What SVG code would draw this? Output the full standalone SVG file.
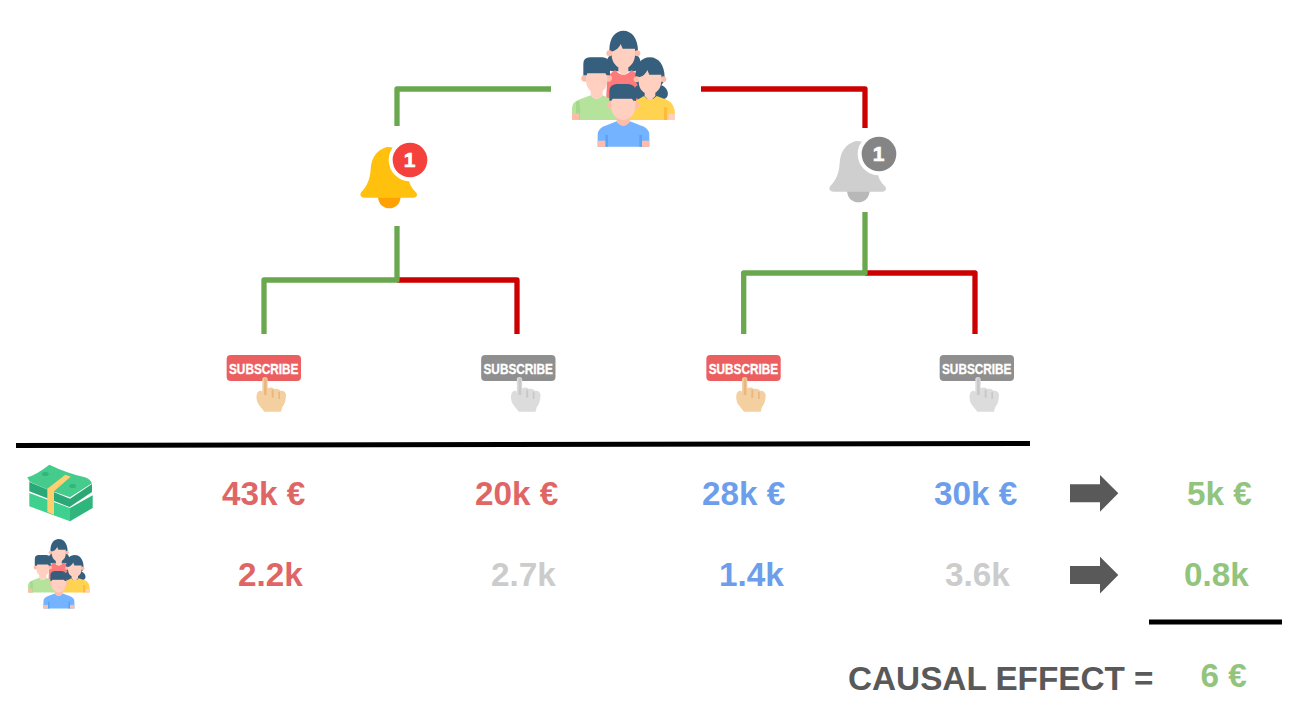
<svg xmlns="http://www.w3.org/2000/svg" xmlns:xlink="http://www.w3.org/1999/xlink" width="1300" height="716" viewBox="0 0 1300 716">
<style>
.lbl{font-family:"Liberation Sans",Arial,sans-serif;font-weight:700;font-size:33.3px}
.r{fill:#e06666}.b{fill:#6d9eeb}.g{fill:#cccccc}.v{fill:#93c47d}.d{fill:#595959}
.con{fill:none;stroke-width:5.3;stroke-linejoin:round}.gc{stroke:#6aa84f}.rc{stroke:#cc0000}
.sub{font-family:"Liberation Sans",Arial,sans-serif;font-weight:700;font-size:14.5px;fill:#fff;stroke:#fff;stroke-width:.35}
.one{font-family:"Liberation Sans",Arial,sans-serif;font-weight:700;fill:#fff;font-size:21px;text-anchor:middle;stroke:#fff;stroke-width:.6}
.col{--btn:#ec5f60;--hand:#f4cfa0;--hand2:#e8b884}
.mono{--btn:#8f8f8f;--hand:#dcdcdc;--hand2:#c8c8c8}
.by{--bell:#ffc10d;--clap:#ffa100;--badge:#f5413b}
.bg{--bell:#cfcfcf;--clap:#b8b8b8;--badge:#858585}
.hair{fill:#365f7d}.skin{fill:#ffcfc0}.skin2{fill:#ffbca8}
</style>
<defs>
<g id="people">
<path class="hair" d="M148,92C148,50 168,32 190,32C215,32 234,55 234,92L234,108C248,122 242,154 220,154L160,154C138,154 132,125 148,108Z"/>
<path fill="#ff7a7a" d="M142,168L165,150Q190,178 215,150L238,168L242,250L138,250Z"/>
<circle class="skin2" cx="148" cy="100" r="9"/><circle class="skin2" cx="232" cy="100" r="9"/>
<path class="skin" d="M155,95C165,92 176,86 182,72L188,86L225,86L225,105C225,125 212,138 205,142L205,152Q190,178 175,152L175,142C168,138 155,125 155,105Z"/>
<path class="hair" d="M226,172C226,130 245,112 270,112C295,112 314,135 314,172C314,185 308,190 304,196C328,204 332,238 306,238L240,238C212,234 216,204 234,196C230,190 226,185 226,172Z"/>
<path fill="#ffd24f" d="M206,300L222,245L252,228Q270,250 290,228L322,240Q345,250 345,285L345,300Z"/>
<path fill="#ffb93d" d="M312,262H321V300H312Z"/>
<path class="skin" d="M325,282H345V300H325Z"/>
<circle class="skin2" cx="230" cy="178" r="9"/><circle class="skin2" cx="310" cy="178" r="9"/>
<path class="skin" d="M236,172C246,170 256,164 262,150L268,164L304,164L304,182C304,204 292,214 286,218L286,228Q270,250 254,228L254,218C246,214 236,204 236,182Z"/>
<path fill="#b5e39c" d="M36,300V265Q36,246 60,238L92,226Q110,248 128,226L158,240L176,300Z"/>
<path fill="#a2d88a" d="M58,242Q62,270 60,300H48V246Z"/>
<path class="skin2" d="M36,281H58V300H36Z"/>
<path class="skin" d="M92,205H128V226Q110,248 92,226Z"/>
<circle class="skin2" cx="74" cy="175" r="10"/><circle class="skin2" cx="146" cy="175" r="10"/>
<path class="skin" d="M78,155H142V182C142,206 124,220 110,220C96,220 78,206 78,182Z"/>
<path class="hair" d="M70,166V132Q70,112 90,112H128Q150,114 150,140V166H140L136,160H82L80,166Z"/>
<path fill="#73b3ff" d="M113,380V345Q113,324 140,316L170,304Q190,328 210,304L240,316Q268,324 268,345V380Z"/>
<path fill="#5aa3f5" d="M136,345H144V380H136ZM238,345H246V380H238Z"/>
<path class="skin2" d="M113,362H136V380H113ZM246,362H268V380H246Z"/>
<path class="skin2" d="M170,285H210V305Q190,330 170,305Z"/>
<circle class="skin2" cx="150" cy="256" r="10"/><circle class="skin2" cx="228" cy="256" r="10"/>
<path class="skin" d="M153,235H226V260C226,284 206,300 190,300C174,300 153,284 153,260Z"/>
<path class="hair" d="M148,242V212Q150,192 172,192H204Q228,194 228,216V242H220L216,236H158L154,242Z"/>
</g>
<g id="bell">
<path fill="var(--clap)" d="M84,198H152C152,222 136,235 118,235C100,235 84,222 84,198Z"/>
<path fill="var(--bell)" d="M108,52C78,62 64,85 62,118C60,148 52,168 34,186C28,194 32,203 44,203H190C202,203 204,192 197,186C178,168 174,150 174,118C174,85 140,45 108,52Z"/>
<circle cx="180" cy="90" r="64" fill="#fff"/>
<circle cx="180" cy="90" r="52" fill="var(--badge)"/>
<text class="one" x="59.5" y="37.3" transform="scale(3)">1</text>
</g>
<g id="sub">
<rect x="35" y="30" width="223" height="78" rx="12" fill="var(--btn)"/>
<text class="sub" x="14" y="28.6" textLength="69.5" lengthAdjust="spacingAndGlyphs" transform="scale(3)">SUBSCRIBE</text>
<path fill="var(--hand)" d="M142,103C142,94 158,94 158,103V130C164,126 174,126 178,132C184,130 194,132 196,138C204,136 214,142 213,152C212,170 208,178 202,186L198,200H148L132,180C124,170 122,152 128,142C132,136 138,136 142,140Z"/>
<path fill="var(--hand2)" d="M147,100H155V150H147ZM170,134H176V158H170ZM190,140H195V162H190Z"/>
</g>
<path id="arrow" d="M1070,484.3H1100V475L1118.3,493.3L1100,511.7V502.3H1070Z"/>
<g id="money">
<path fill="#2fb67c" d="M150,150L218,112V150L150,190Z"/>
<path fill="#3fd08f" d="M28,105L150,150V190L28,145Z"/>
<path fill="#2ba877" d="M28,72L150,122V148L28,100Z"/>
<path fill="#2da874" d="M150,122L216,78V102L150,146Z"/>
<path fill="#45cc8c" d="M22,58Q50,50 88,20Q140,45 195,58Q210,62 216,76L150,118Q90,100 30,72Z"/>
<ellipse cx="76" cy="48" rx="10" ry="6" fill="#2fb67c"/>
<ellipse cx="158" cy="84" rx="10" ry="6" fill="#2fb67c"/>
<path fill="#ffcf70" d="M82,92L136,50L152,56L102,100V170L82,162Z"/>
</g>
</defs>

<g id="connectors">
<polyline class="con gc" points="551,89 397,89 397,126"/>
<polyline class="con rc" points="701,89 865,89 865,128"/>
<polyline class="con rc" points="397,280 517,280 517,334"/>
<polyline class="con gc" points="397,226 397,280 264,280 264,334"/>
<polyline class="con rc" points="865,273 975,273 975,334"/>
<polyline class="con gc" points="865,212 865,273 743.7,273 743.7,334"/>
<line x1="16" y1="445.5" x2="1030" y2="443.5" stroke="#000" stroke-width="5"/>
<line x1="1149" y1="622" x2="1282" y2="622" stroke="#000" stroke-width="5"/>
</g>

<g id="people-top"><use xlink:href="#people" transform="translate(560,20) scale(0.3333)"/></g>
<g id="bell-yes" class="by"><use xlink:href="#bell" transform="translate(350,130) scale(0.3333)"/></g>
<g id="bell-no" class="bg"><use xlink:href="#bell" transform="translate(819,124) scale(0.3333)"/></g>
<g id="sub-1" class="col"><use xlink:href="#sub" transform="translate(215,345) scale(0.3333)"/></g>
<g id="sub-2" class="mono"><use xlink:href="#sub" transform="translate(469.5,345) scale(0.3333)"/></g>
<g id="sub-3" class="col"><use xlink:href="#sub" transform="translate(694.7,345) scale(0.3333)"/></g>
<g id="sub-4" class="mono"><use xlink:href="#sub" transform="translate(928,345) scale(0.3333)"/></g>
<g id="money-icon"><use xlink:href="#money" transform="translate(20,458) scale(0.3333)"/></g>
<g id="people-small"><use xlink:href="#people" transform="translate(20.8,532.6) scale(0.2)"/></g>

<g id="row-revenue">
<text class="lbl r" x="222" y="505">43k €</text>
<text class="lbl r" x="475" y="505">20k €</text>
<text class="lbl b" x="702" y="505">28k €</text>
<text class="lbl b" x="934" y="505">30k €</text>
<use xlink:href="#arrow" class="d"/>
<text class="lbl v" x="1187" y="505">5k €</text>
</g>
<g id="row-users">
<text class="lbl r" x="238" y="586">2.2k</text>
<text class="lbl g" x="491" y="586">2.7k</text>
<text class="lbl b" x="719" y="586">1.4k</text>
<text class="lbl g" x="945" y="586">3.6k</text>
<use xlink:href="#arrow" class="d" y="81.7"/>
<text class="lbl v" x="1184" y="586">0.8k</text>
</g>
<g id="result">
<text class="lbl d" x="848" y="690">CAUSAL EFFECT =</text>
<text class="lbl v" x="1200.5" y="687">6 €</text>
</g>
</svg>
